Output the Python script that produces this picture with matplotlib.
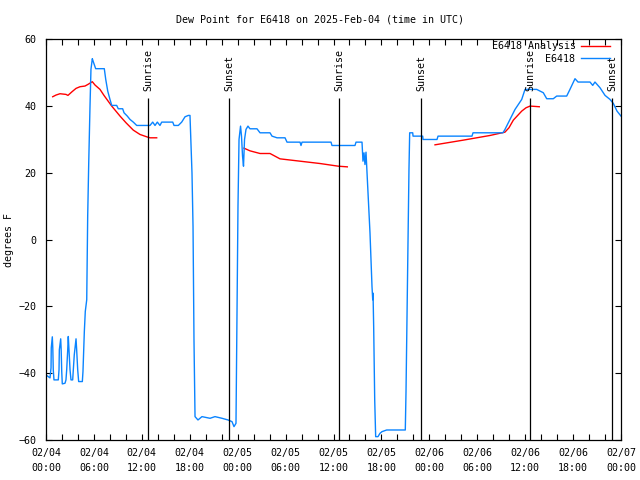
import numpy as np
import pandas as pd
import matplotlib
matplotlib.use('Agg')
import matplotlib.pyplot as plt
import matplotlib.dates as mdates

# hours after 2025-02-04 00:00 UTC
obs_hours = [0.16, 0.50, 0.63, 0.66, 0.79, 0.85, 0.91, 1.00, 1.54, 1.63, 1.67, 1.84, 1.90, 1.97,
             2.04, 2.38, 2.50, 2.59, 2.72, 2.79, 2.88, 3.01, 3.13, 3.34, 3.42, 3.54, 3.67, 3.76,
             3.84, 3.97, 4.09, 4.55, 4.63, 4.72, 4.80, 4.92, 5.10, 5.22, 5.35, 5.51, 5.63, 5.80,
             5.92, 6.22, 7.30, 7.48, 7.73, 8.01, 8.23, 8.85, 9.05, 9.60, 9.77, 10.18, 10.52, 10.93,
             11.36, 13.02, 13.36, 13.65, 13.94, 14.27, 14.49, 15.87, 16.03, 16.57, 16.99, 17.41,
             17.82, 18.03, 18.12, 18.28, 18.41, 18.53, 18.66, 19.03, 19.53, 20.54, 21.16, 22.04,
             22.79, 23.29, 23.54, 23.79, 23.92, 24.04, 24.17, 24.36, 24.48, 24.61, 24.73, 24.86,
             25.04, 25.29, 25.54, 26.42, 26.80, 28.05, 28.30, 28.93, 29.93, 30.18, 31.81, 31.93,
             32.06, 35.69, 35.81, 38.69, 38.82, 39.57, 39.69, 39.82, 39.94, 40.07, 40.20, 40.41,
             40.57, 40.70, 40.82, 40.91, 40.95, 41.03, 41.16, 41.28, 41.57, 41.82, 42.07, 42.66,
             44.99, 45.08, 45.20, 45.33, 45.45, 45.54, 45.92, 45.96, 47.17, 47.21, 48.96, 49.09,
             53.34, 53.47, 57.22, 57.47, 58.10, 58.73, 59.57, 59.98, 61.44, 61.86, 62.27, 62.70,
             63.52, 63.95, 65.20, 65.61, 66.24, 66.62, 68.12, 68.46, 68.74, 69.37, 70.00, 70.62,
             71.04, 71.50, 72.00]
obs_dewp = [-40.8, -41.4, -38.4, -32.4, -29.1, -32.4, -39, -42, -42, -39, -33, -29.7, -33, -39.5,
            -43.2, -43, -42, -39, -33, -29, -33, -39, -42, -42, -39, -34.5, -31.5, -29.7,
            -33, -39, -42.5, -42.5, -39.5, -33.5, -27.5, -21.5, -18, 7, 23, 40, 51, 54.2,
            53.3, 51.2, 51.2, 48, 44.5, 42, 40.2, 40.2, 39.2, 39.2, 38, 37, 36, 35.2,
            34.2, 34.2, 35.2, 34.2, 35.2, 34.2, 35.2, 35.2, 34.2, 34.2, 35.2, 36.8,
            37.2, 37.2, 31, 20, 4, -30, -53, -54, -53, -53.5, -53, -53.5,
            -54, -54.5, -56, -55, -20, 10, 30, 34, 31, 25, 22, 30,
            33, 34, 33.2, 33.2, 32, 32, 31, 30.5, 30.5, 29.2, 29.2, 28.2,
            29.2, 29.2, 28.2, 28.2, 29.2, 29.2, 23.5, 26, 22.5, 26.2, 20, 10,
            2, -6, -14, -18, -16, -26, -48, -59, -59, -58, -57.5, -57,
            -57, -45.5, -23.5, -1, 21, 32, 32, 31, 31, 30, 30, 31,
            31, 32, 32, 33, 36, 39, 42, 45, 45, 44.5, 44, 42.2,
            42.2, 43, 43, 45, 48.2, 47.2, 47.2, 46.2, 47.2, 45.5, 43.2, 42,
            40.8, 38.5, 37]

ana1_hours = [0.84, 1.25, 1.75, 2.50, 2.75, 3.26, 3.76, 4.26, 4.88, 5.26, 5.80, 6.14, 6.76, 7.26,
              8.23, 9.27, 10.02, 10.93, 11.77, 12.61, 13.02, 13.86]
ana1_dewp = [42.8, 43.3, 43.7, 43.5, 43.2, 44.3, 45.3, 45.8, 46, 46.5, 47.3, 46.3, 45, 43.2,
             40, 37, 35, 32.8, 31.5, 30.8, 30.5, 30.5]
ana2_hours = [24.79, 25.54, 26.80, 28.05, 29.30, 31.81, 34.31, 36.60, 37.73]
ana2_dewp = [27.4, 26.6, 25.8, 25.8, 24.2, 23.5, 22.8, 22, 21.8]
ana3_hours = [48.71, 52.25, 55.60, 57.47, 57.97, 58.52, 59.57, 60.11, 60.61, 61.23, 61.77]
ana3_dewp = [28.4, 29.8, 31.2, 32.2, 33.5, 35.8, 38.5, 39.5, 40, 39.9, 39.8]

sun_hours = [12.77, 22.92, 36.69, 46.96, 60.61, 70.91]
sun_labels = ['Sunrise', 'Sunset', 'Sunrise', 'Sunset', 'Sunrise', 'Sunset']

base = pd.Timestamp('2025-02-04 00:00')
def tt(h):
    return base + pd.to_timedelta(np.array(h), unit='h')

fs = 7.2
plt.rcParams['font.family'] = 'DejaVu Sans Mono'
plt.rcParams['font.size'] = fs

fig = plt.figure(figsize=(6.4, 4.8), dpi=100)
ax = fig.add_axes([46/640, 40/480, 575/640, 400.7/480])

red = '#ff0000'
blue = '#0a84ff'
ax.plot(tt(ana1_hours), ana1_dewp, color=red, lw=1.0, label='E6418 Analysis')
ax.plot(tt(ana2_hours), ana2_dewp, color=red, lw=1.0)
ax.plot(tt(ana3_hours), ana3_dewp, color=red, lw=1.0)
ax.plot(tt(obs_hours), obs_dewp, color=blue, lw=1.0, label='E6418')

for h, lab in zip(sun_hours, sun_labels):
    t = tt([h])[0]
    ax.vlines(t, -60, 42.3, color='black', lw=0.9)
    ax.text(t, 44.6, lab, rotation=90, ha='center', va='bottom', fontsize=fs)

ax.set_xlim(base, base + pd.Timedelta(hours=72))
ax.set_ylim(-60, 60)
ax.set_yticks(np.arange(-60, 61, 20))
ax.xaxis.set_major_locator(mdates.HourLocator(byhour=[0, 6, 12, 18]))
ax.xaxis.set_minor_locator(mdates.HourLocator(interval=2))
ax.xaxis.set_major_formatter(mdates.DateFormatter('%m/%d\n%H:%M'))
ax.tick_params(which='both', direction='in', top=True, right=True, length=4, width=0.8)
ax.tick_params(axis='x', pad=6)
ax.tick_params(axis='y', pad=7)
for lab in ax.get_xticklabels():
    lab.set_linespacing(1.55)
for sp in ax.spines.values():
    sp.set_linewidth(0.9)

ax.set_ylabel('degrees F', fontsize=fs)
ax.yaxis.set_label_coords(-32/575, 0.5)
fig.text(0.5, 1 - 20/480, 'Dew Point for E6418 on 2025-Feb-04 (time in UTC)',
         ha='center', va='center', fontsize=fs)

ax.legend(loc='upper right', bbox_to_anchor=(0.98, 0.995), frameon=False, markerfirst=False,
          handlelength=2.9, handletextpad=0.5, labelspacing=0.25, borderpad=0, borderaxespad=0,
          fontsize=fs)

fig.savefig('out.png', dpi=100)
